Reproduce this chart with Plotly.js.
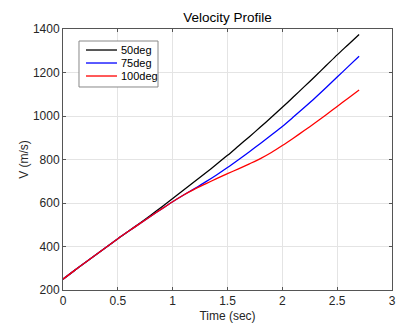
<!DOCTYPE html>
<html>
<head>
<meta charset="utf-8">
<script src="https://cdn.plot.ly/plotly-3.0.1.min.js"></script>
<style>
html,body{margin:0;padding:0;background:#fff;}
#chart{width:402px;height:325px;}
</style>
</head>
<body>
<div id="chart"></div>
<script>
var time = [0,0.1,0.2,0.3,0.4,0.5,0.6,0.7,0.8,0.9,1.0,1.1,1.2,1.3,1.4,1.5,1.6,1.7,1.8,1.9,2.0,2.1,2.2,2.3,2.4,2.5,2.6,2.7];
var v50  = [250,288,325,362,399,436,471,507,544,582,621,660,699,738,778,819,862,905,949,994,1040,1087,1135,1183,1232,1281,1328,1375];
var v75  = [250,288,325,362,399,436,471,505,539,573,606,637,666,697,729,763,799,836,874,913,952,995,1039,1084,1131,1179,1227,1275];
var v100 = [250,288,325,362,399,436,471,505,539,573,606,637,664,688,712,735,757,780,804,832,864,898,933,969,1006,1044,1082,1120];
var seriesNames = ['50deg','75deg','100deg'];
var seriesColors = ['#000000','#0000ff','#ff0000'];
var xTicks = [0,0.5,1,1.5,2,2.5,3];
var yTicks = [200,400,600,800,1000,1200,1400];

var FONT = 'Liberation Sans, Arial, sans-serif';
var series = [v50, v75, v100];
var traces = series.map(function (vals, i) {
  return {x: time, y: vals, name: seriesNames[i], mode: 'lines',
          line: {color: seriesColors[i], width: 1.3, shape: 'spline', smoothing: 0.8}};
});

var axisCommon = {
  showline: true, mirror: 'ticks', linecolor: '#555555', linewidth: 1,
  ticks: 'inside', ticklen: 3, tickcolor: '#555555', tickwidth: 1,
  showgrid: true, gridcolor: '#e4e4e4', gridwidth: 1,
  zeroline: false,
  tickfont: {family: FONT, size: 12, color: '#262626'}
};

// Legend drawn in paper coordinates (compact, MATLAB-like)
var legX0 = 0.0486, legX1 = 0.2888, legY0 = 0.7778, legY1 = 0.954;
var rowY = [0.9195, 0.8697, 0.8199];
var lineX0 = 0.0699, lineX1 = 0.1641, textX = 0.1702;
var shapes = [{type: 'rect', xref: 'paper', yref: 'paper', x0: legX0, x1: legX1, y0: legY0, y1: legY1,
               line: {color: '#888888', width: 1}, fillcolor: '#ffffff', layer: 'above'}];
var annotations = [];
seriesNames.forEach(function (nm, i) {
  shapes.push({type: 'line', xref: 'paper', yref: 'paper', x0: lineX0, x1: lineX1, y0: rowY[i], y1: rowY[i],
               line: {color: seriesColors[i], width: 1.3}, layer: 'above'});
  annotations.push({xref: 'paper', yref: 'paper', x: textX, y: rowY[i], xanchor: 'left', yanchor: 'middle',
                    text: nm, showarrow: false, font: {family: FONT, size: 11, color: '#000000'}});
});

var layout = {
  width: 402, height: 325,
  margin: {l: 63, r: 10, t: 29, b: 35},
  paper_bgcolor: '#ffffff', plot_bgcolor: '#ffffff',
  title: {text: 'Velocity Profile', x: 0.566, xanchor: 'center', y: 0.948, yanchor: 'middle',
          font: {family: FONT, size: 13.5, color: '#000000'}},
  xaxis: Object.assign({}, axisCommon, {
    range: [0, 3], tickvals: xTicks, ticktext: xTicks.map(String),
    title: {text: 'Time (sec)', standoff: 4, font: {family: FONT, size: 12, color: '#262626'}}
  }),
  yaxis: Object.assign({}, axisCommon, {
    range: [200, 1400], tickvals: yTicks, ticktext: yTicks.map(String),
    title: {text: 'V (m/s)', standoff: 1, font: {family: FONT, size: 12, color: '#262626'}}
  }),
  showlegend: false,
  shapes: shapes,
  annotations: annotations
};

Plotly.newPlot('chart', traces, layout, {displayModeBar: false, staticPlot: true});
</script>
</body>
</html>
